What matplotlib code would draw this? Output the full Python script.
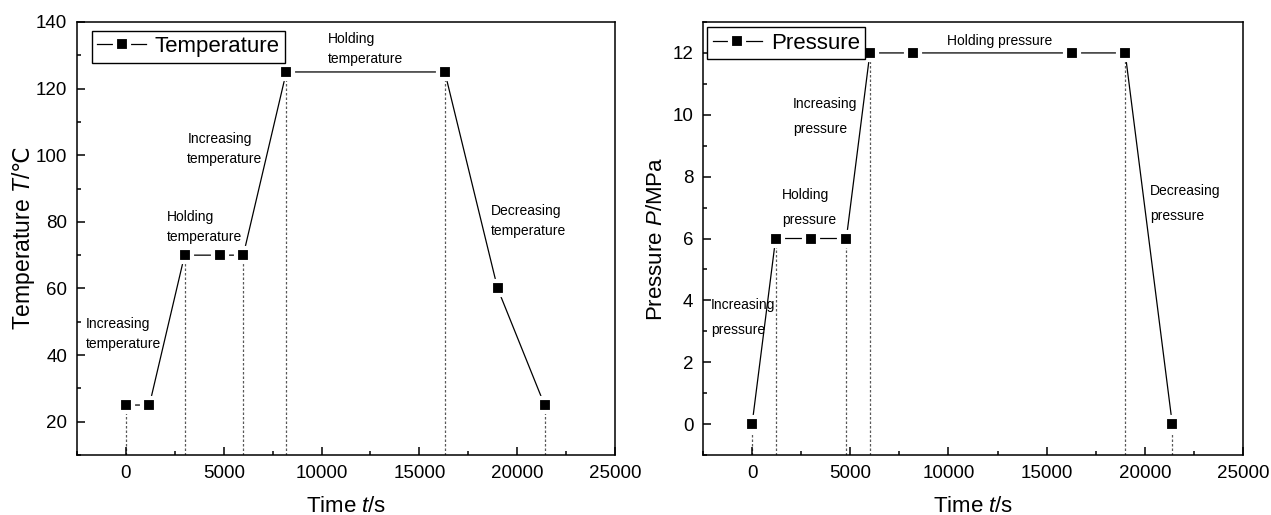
import matplotlib
matplotlib.use("Agg")
import matplotlib.pyplot as plt
from matplotlib.ticker import MultipleLocator

# ---------------- data ----------------
time_s = [0, 1200, 3000, 4800, 6000, 8200, 16300, 19000, 21400]
temperature_c = [25, 25, 70, 70, 70, 125, 125, 60, 25]
pressure_mpa = [0, 6, 6, 6, 12, 12, 12, 12, 0]

temp_guides = [0, 3000, 6000, 8200, 16300, 21400]      # dashed drop lines
press_guides = [0, 1200, 4800, 6000, 19000, 21400]

temp_notes = [("Increasing\ntemperature", -2050, 46.3),
              ("Holding\ntemperature", 2100, 78.4),
              ("Increasing\ntemperature", 3140, 101.8),
              ("Holding\ntemperature", 10300, 131.9),
              ("Decreasing\ntemperature", 18660, 80.3)]
press_notes = [("Increasing\npressure", -2100, 3.43),
               ("Holding\npressure", 1530, 7.0),
               ("Increasing\npressure", 2080, 9.96),
               ("Holding pressure", 9950, 12.38),
               ("Decreasing\npressure", 20260, 7.13)]

# ---------------- style ----------------
plt.rcParams['font.family'] = ['Liberation Sans', 'DejaVu Sans']
plt.rcParams['mathtext.fontset'] = 'custom'
plt.rcParams['mathtext.rm'] = 'Liberation Sans'
plt.rcParams['mathtext.it'] = 'Liberation Sans:italic'
plt.rcParams['mathtext.sf'] = 'DejaVu Sans'

fig = plt.figure(figsize=(12.71, 5.15), dpi=100)
ax1 = fig.add_axes([77/1271, 1-455/515, 538/1271, 433/515])
ax2 = fig.add_axes([703/1271, 1-455/515, 540/1271, 433/515])


def style(ax, ylim, ymaj, ymin_):
    ax.set_xlim(-2500, 25000)
    ax.set_ylim(*ylim)
    ax.xaxis.set_major_locator(MultipleLocator(5000))
    ax.xaxis.set_minor_locator(MultipleLocator(2500))
    ax.yaxis.set_major_locator(MultipleLocator(ymaj))
    ax.yaxis.set_minor_locator(MultipleLocator(ymin_))
    ax.tick_params(which='both', direction='in', top=False, right=False,
                   labelsize=13.5, width=1.1)
    ax.tick_params(which='major', length=5.5, pad=7)
    ax.tick_params(which='minor', length=3)
    for s in ax.spines.values():
        s.set_linewidth(1.1)


def draw(ax, y, guides, label, ylim):
    gy = [y[time_s.index(g)] for g in guides]
    ax.vlines(guides, ylim[0], gy, colors='0.35', linestyles=(0, (2, 1.6)),
              lw=0.9, zorder=1)
    ax.plot(time_s, y, '-', color='k', lw=0.9, marker='s', ms=10,
            mfc='k', mec='w', mew=3, label=label, zorder=3)


# temperature panel
ylim1 = (10, 140)
style(ax1, ylim1, 20, 10)
draw(ax1, temperature_c, temp_guides, 'Temperature', ylim1)
for txt, x, y in temp_notes:
    ax1.text(x, y, txt, fontsize=10, ha='left', va='center', linespacing=1.55)
ax1.set_xlabel('Time $t$/s', fontsize=16, labelpad=10)
ax1.set_ylabel(r'Temperature $T$/$\mathsf{℃}$', fontsize=16.5, labelpad=-1)
leg1 = ax1.legend(loc='upper left', bbox_to_anchor=(0.027, 0.98),
                  borderaxespad=0, fontsize=16, fancybox=False, framealpha=1,
                  edgecolor='k', handlelength=2.2, handletextpad=0.4,
                  borderpad=0.25)
leg1.get_frame().set_linewidth(1.0)

# pressure panel
ylim2 = (-1, 13)
style(ax2, ylim2, 2, 1)
draw(ax2, pressure_mpa, press_guides, 'Pressure', ylim2)
for txt, x, y in press_notes:
    ax2.text(x, y, txt, fontsize=10, ha='left', va='center', linespacing=2.0)
ax2.set_xlabel('Time $t$/s', fontsize=16, labelpad=10)
ax2.set_ylabel('Pressure $P$/MPa', fontsize=16, labelpad=4)
leg2 = ax2.legend(loc='upper left', bbox_to_anchor=(0.008, 0.988),
                  borderaxespad=0, fontsize=16, fancybox=False, framealpha=1,
                  edgecolor='k', handlelength=2.2, handletextpad=0.4,
                  borderpad=0.25)
leg2.get_frame().set_linewidth(1.0)

fig.savefig('out.png', dpi=100)
